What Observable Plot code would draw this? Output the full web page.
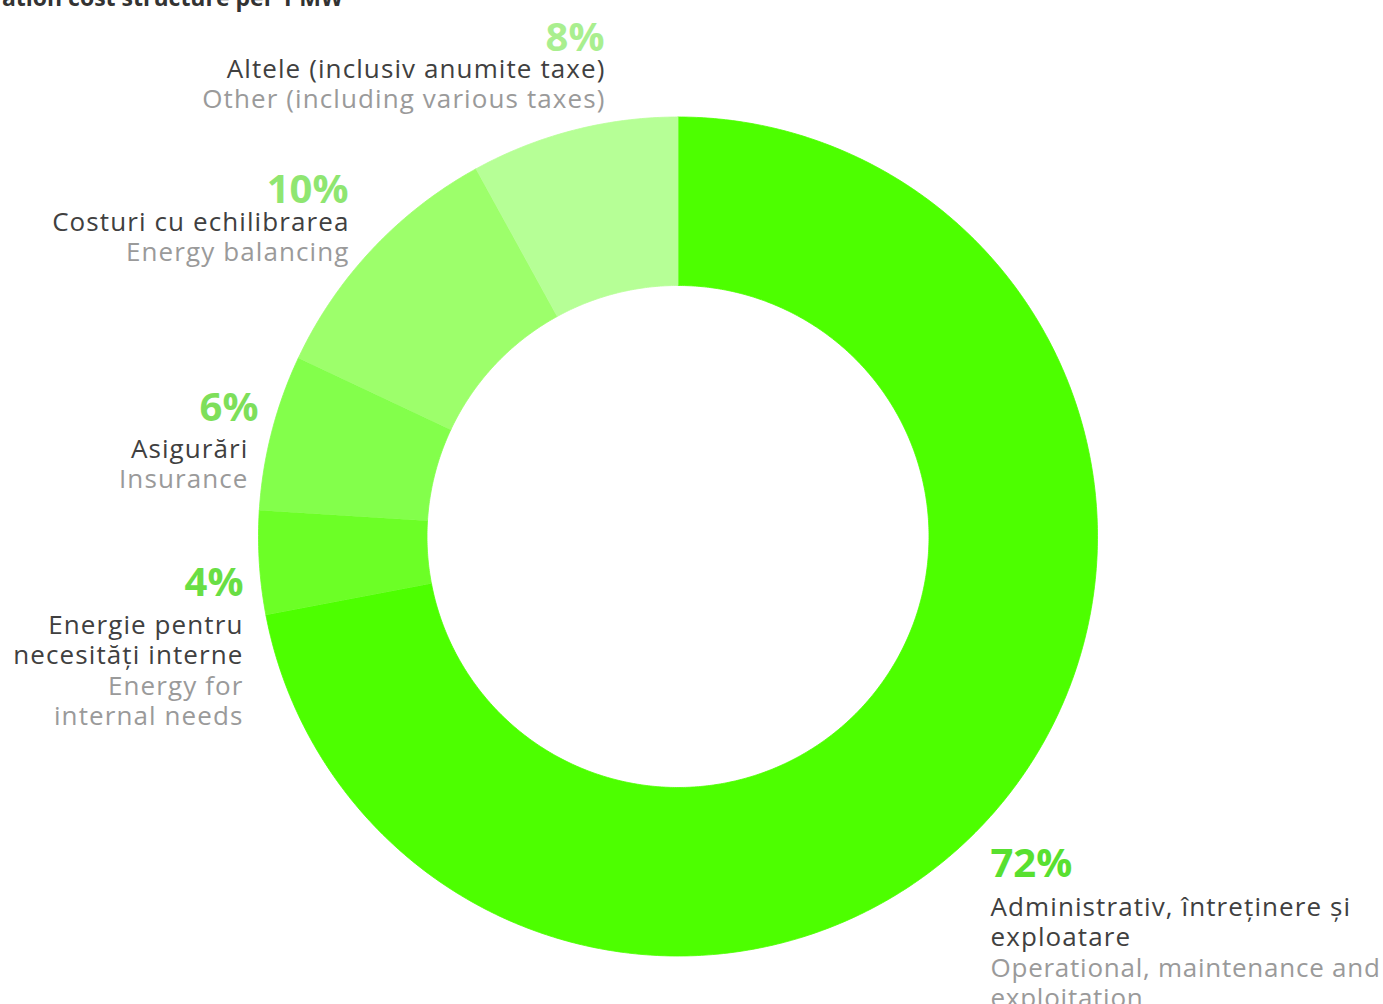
<!DOCTYPE html>
<html><head><meta charset="utf-8">
<script src="https://cdn.jsdelivr.net/npm/d3@7"></script>
<script src="https://cdn.jsdelivr.net/npm/@observablehq/plot@0.6"></script>
<style>
body{margin:0;background:#fff;overflow:hidden}
#wrap{position:relative;width:1383px;height:1004px;overflow:hidden;background:#fff}
#title{position:absolute;top:-19px;left:-55px;font:bold 23px "Open Sans",sans-serif;color:#333;white-space:nowrap}
#chart{position:absolute;top:0;left:0}
</style></head><body>
<div id="wrap"><div id="chart"></div><div id="title">Operation cost structure per 1 MW</div></div>
<script>
// ---- data ----
const categories = ["Administrativ, întreținere și\nexploatare", "Energie pentru\nnecesități interne", "Asigurări", "Costuri cu echilibrarea", "Altele (inclusiv anumite taxe)"];
const categoriesEn = ["Operational, maintenance and\nexploitation", "Energy for\ninternal needs", "Insurance", "Energy balancing", "Other (including various taxes)"];
const values = [72, 4, 6, 10, 8];

// ---- styles / layout ----
const sliceColors = ["#4dff00", "#6cff26", "#83ff4b", "#9dff6b", "#b6ff96"];
const pctColors = ["#58e030", "#69de44", "#7edf5a", "#8fe671", "#a9ef8f"];
const W = 1383, H = 1004, CX = 677.5, CY = 536, R_OUT = 419.5, R_IN = 251;
const FS = 26, LINE = 30.5;
// pixel anchors for labels
const labelLayout = [
  {pctX: 990, textX: 990, anchor: "start", pctY: 876, textY: 915},
  {pctX: 243, textX: 243, anchor: "end", pctY: 595, textY: 633},
  {pctX: 258, textX: 248, anchor: "end", pctY: 420, textY: 457},
  {pctX: 348, textX: 349, anchor: "end", pctY: 202, textY: 230},
  {pctX: 604, textX: 605, anchor: "end", pctY: 50, textY: 77}
];

// ---- slice geometry from values ----
const total = d3.sum(values);
const pts = [];
let acc = 0;
values.forEach((v, i) => {
  const a0 = acc / total * 2 * Math.PI, a1 = (acc + v) / total * 2 * Math.PI;
  acc += v;
  const n = Math.max(8, Math.ceil((a1 - a0) / (Math.PI / 360)));
  for (let k = 0; k <= n; k++) {
    const a = a0 + (a1 - a0) * k / n;
    pts.push({cat: categories[i], x: R_OUT * Math.sin(a), y: R_OUT * Math.cos(a)});
  }
  for (let k = n; k >= 0; k--) {
    const a = a0 + (a1 - a0) * k / n;
    pts.push({cat: categories[i], x: R_IN * Math.sin(a), y: R_IN * Math.cos(a)});
  }
});

const px = (X) => X - CX, py = (Y) => CY - Y;
const labels = categories.map((c, i) => {
  const L = labelLayout[i];
  const nRo = c.split("\n").length, nEn = categoriesEn[i].split("\n").length;
  return {
    cat: c, en: categoriesEn[i], pct: values[i] + "%", pctColor: pctColors[i], anchor: L.anchor,
    pctX: px(L.pctX), pctY: py(L.pctY), textX: px(L.textX),
    roY: py(L.textY + (nRo - 1) * LINE),
    enY: py(L.textY + nRo * LINE + (nEn - 1) * LINE)
  };
});

const textMarks = (anchor) => {
  const d = labels.filter(l => l.anchor === anchor);
  return [
    Plot.text(d, {x: "pctX", y: "pctY", text: "pct", fill: "pctColor", textAnchor: anchor, lineAnchor: "bottom", fontSize: 40, fontWeight: "bold", fontFamily: "Open Sans"}),
    Plot.text(d, {x: "textX", y: "roY", text: "cat", fill: "#404040", textAnchor: anchor, lineAnchor: "bottom", fontSize: FS, lineHeight: LINE / FS, fontFamily: "Open Sans"}),
    Plot.text(d, {x: "textX", y: "enY", text: "en", fill: "#9a9a9a", textAnchor: anchor, lineAnchor: "bottom", fontSize: FS, lineHeight: LINE / FS, fontFamily: "Open Sans"})
  ];
};

const chart = Plot.plot({
  width: W, height: H,
  margin: 0,
  x: {domain: [-CX, W - CX], axis: null},
  y: {domain: [-(H - CY), CY], axis: null},
  color: {domain: categories, range: sliceColors},
  style: {background: "#fff", overflow: "visible"},
  marks: [
    Plot.line(pts, {x: "x", y: "y", z: "cat", fill: "cat", stroke: "cat", strokeWidth: 0.8, curve: "linear"}),
    ...textMarks("end"),
    ...textMarks("start")
  ]
});
// wider tracking for the label text (not the percentages)
const spacing = ["0", "1.1px", "1.1px", "0", "1.1px", "0.75px"];
d3.select(chart).selectAll('g[aria-label="text"]').attr("letter-spacing", (d, i) => spacing[i]);
document.getElementById("chart").appendChild(chart);
</script>
</body></html>
